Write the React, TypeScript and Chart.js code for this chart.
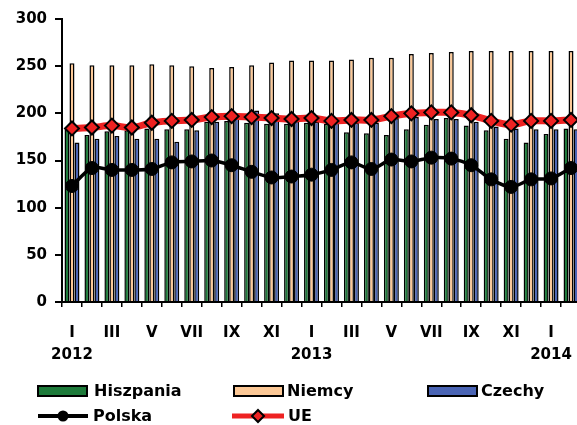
import React, { useEffect, useRef } from 'react';
import { Chart, registerables } from 'chart.js';

Chart.register(...registerables);

const months = ['I', 'II', 'III', 'IV', 'V', 'VI', 'VII', 'VIII', 'IX', 'X', 'XI', 'XII',
  'I', 'II', 'III', 'IV', 'V', 'VI', 'VII', 'VIII', 'IX', 'X', 'XI', 'XII', 'I', 'II'];
const yearNames = ['2012', '2013', '2014'];
const yTicks = [0, 50, 100, 150, 200, 250, 300];

const hiszpania = [183, 177, 181, 182, 184, 183, 183, 191, 192, 190, 189, 189, 190, 189, 180, 179, 177, 183, 188, 195, 187, 182, 173, 169, 178, 184];
const niemcy = [253, 251, 251, 251, 252, 251, 250, 248, 249, 251, 254, 256, 256, 256, 257, 259, 259, 263, 264, 265, 266, 266, 266, 266, 266, 266];
const czechy = [169, 173, 176, 173, 173, 170, 182, 191, 197, 203, 200, 192, 191, 190, 190, 190, 195, 196, 194, 194, 191, 186, 184, 183, 183, 183];
const polska = [123, 142, 140, 140, 141, 148, 149, 150, 145, 138, 132, 133, 135, 140, 148, 141, 151, 149, 153, 152, 145, 130, 122, 130, 131, 142];
const ue = [184, 185, 187, 185, 190, 192, 193, 196, 197, 196, 195, 194, 195, 192, 193, 193, 197, 200, 201, 201, 198, 192, 188, 192, 192, 193];

const FAMILY = '"DejaVu Sans", "Liberation Sans", sans-serif';
const GREEN = '#1d7a3a';
const TAN = '#fcc896';
const BLUE = '#4a64b4';
const RED = '#ee2222';

function yearFor(index: number): string {
  let count = 0;
  for (let i = 0; i < index; i++) if (months[i] === 'I') count++;
  return yearNames[count] || '';
}

const legendPlugin = {
  id: 'gridLegend',
  afterDraw(chart: any) {
    const ctx = chart.ctx as CanvasRenderingContext2D;
    ctx.save();
    ctx.font = `bold 16px ${FAMILY}`;
    ctx.textBaseline = 'middle';
    ctx.textAlign = 'left';
    const boxes = [
      { label: 'Hiszpania', color: GREEN, x: 38, tx: 94 },
      { label: 'Niemcy', color: TAN, x: 234, tx: 287 },
      { label: 'Czechy', color: BLUE, x: 428, tx: 481 },
    ];
    boxes.forEach((b) => {
      ctx.fillStyle = b.color;
      ctx.fillRect(b.x, 386, 49, 10);
      ctx.lineWidth = 2;
      ctx.strokeStyle = '#000';
      ctx.strokeRect(b.x, 386, 49, 10);
      ctx.fillStyle = '#000';
      ctx.fillText(b.label, b.tx, 392);
    });
    // Polska
    ctx.strokeStyle = '#000';
    ctx.lineWidth = 4;
    ctx.beginPath();
    ctx.moveTo(38, 416);
    ctx.lineTo(88, 416);
    ctx.stroke();
    ctx.fillStyle = '#000';
    ctx.beginPath();
    ctx.arc(63, 416, 5.5, 0, Math.PI * 2);
    ctx.fill();
    ctx.fillText('Polska', 93, 417);
    // UE
    ctx.strokeStyle = RED;
    ctx.lineWidth = 5;
    ctx.beginPath();
    ctx.moveTo(232, 416);
    ctx.lineTo(284, 416);
    ctx.stroke();
    ctx.beginPath();
    ctx.moveTo(258, 410);
    ctx.lineTo(264, 416);
    ctx.lineTo(258, 422);
    ctx.lineTo(252, 416);
    ctx.closePath();
    ctx.fillStyle = RED;
    ctx.fill();
    ctx.lineWidth = 2;
    ctx.strokeStyle = '#000';
    ctx.stroke();
    ctx.fillStyle = '#000';
    ctx.fillText('UE', 288, 417);
    ctx.restore();
  },
};

export default function App() {
  const ref = useRef<HTMLCanvasElement | null>(null);

  useEffect(() => {
    if (!ref.current) return;
    const tickFont = { family: FAMILY, size: 15, weight: 'bold' as const, lineHeight: 22 / 15 };
    const barCommon = {
      type: 'bar' as const,
      borderColor: '#000',
      borderWidth: 1.5,
      categoryPercentage: 0.75,
      barPercentage: 1.0,
      order: 1,
    };
    const chart = new Chart(ref.current, {
      type: 'bar',
      data: {
        labels: months,
        datasets: [
          { ...barCommon, label: 'Hiszpania', data: hiszpania, backgroundColor: GREEN },
          { ...barCommon, label: 'Niemcy', data: niemcy, backgroundColor: TAN },
          { ...barCommon, label: 'Czechy', data: czechy, backgroundColor: BLUE },
          {
            type: 'line' as const,
            label: 'Polska',
            data: polska,
            borderColor: '#000',
            borderWidth: 3.5,
            pointRadius: 6.5,
            pointBackgroundColor: '#000',
            pointBorderColor: '#000',
            pointBorderWidth: 1,
            tension: 0.3,
            order: 0,
          },
          {
            type: 'line' as const,
            label: 'UE',
            data: ue,
            borderColor: RED,
            borderWidth: 7,
            pointStyle: 'rectRot',
            pointRadius: 7,
            pointBackgroundColor: RED,
            pointBorderColor: '#000',
            pointBorderWidth: 2,
            tension: 0.35,
            order: 0,
          },
        ] as any,
      },
      options: {
        responsive: false,
        animation: false,
        layout: { padding: { top: 19, right: 8, bottom: 63, left: 0 } },
        plugins: {
          legend: { display: false },
          tooltip: { enabled: false },
        },
        scales: {
          x: {
            offset: true,
            afterFit: (scale: any) => { scale.height = 60; },
            grid: {
              display: true,
              offset: true,
              drawOnChartArea: false,
              drawTicks: true,
              tickLength: 5,
              color: '#000',
              lineWidth: 1.5,
            },
            border: { display: true, color: '#000', width: 2 },
            ticks: {
              autoSkip: false,
              maxRotation: 0,
              minRotation: 0,
              padding: 15,
              color: '#000',
              font: tickFont,
              callback: (_v: any, index: number) => {
                if (index % 2 !== 0) return '';
                const m = months[index];
                return m === 'I' ? [m, yearFor(index)] : [m];
              },
            },
          },
          y: {
            min: 0,
            max: 300,
            afterFit: (scale: any) => { scale.width = 62; },
            afterBuildTicks: (scale: any) => { scale.ticks = yTicks.map((v) => ({ value: v })); },
            grid: {
              display: true,
              drawOnChartArea: false,
              drawTicks: true,
              tickLength: 7,
              color: '#000',
              lineWidth: 2,
            },
            border: { display: true, color: '#000', width: 2 },
            ticks: {
              padding: 8,
              color: '#000',
              font: { family: FAMILY, size: 15, weight: 'bold' as const },
            },
          },
        },
      } as any,
      plugins: [legendPlugin],
    });
    return () => chart.destroy();
  }, []);

  return (
    <div style={{ position: 'fixed', left: 0, top: 0, width: 577, height: 425, overflow: 'hidden', background: '#fff' }}>
      <canvas ref={ref} width={590} height={425} style={{ display: 'block', width: 590, height: 425 }} />
    </div>
  );
}
